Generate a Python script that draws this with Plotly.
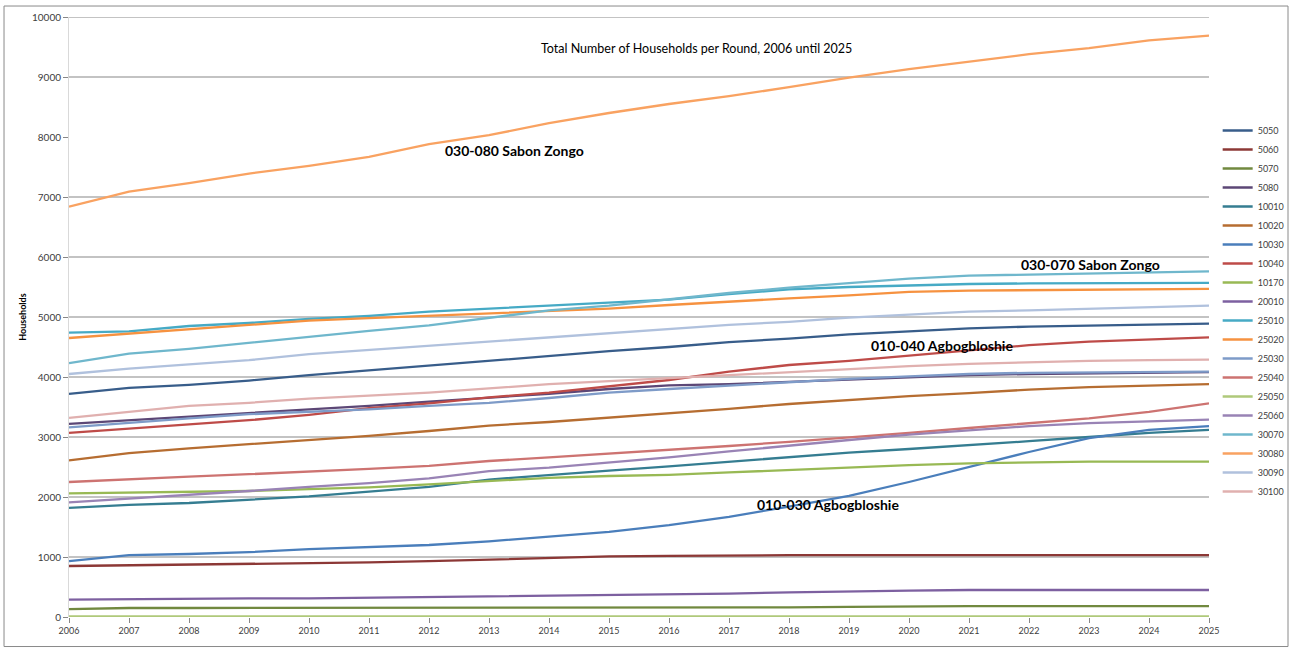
import plotly.graph_objects as go

years = list(range(2006, 2026))

s5050 = [3720, 3820, 3870, 3940, 4030, 4110, 4200, 4280, 4360, 4430, 4500, 4580, 4640, 4710, 4760, 4810, 4840, 4860, 4870, 4890]
s5060 = [850, 860, 870, 880, 900, 910, 930, 960, 990, 1010, 1020, 1030, 1030, 1030, 1030, 1030, 1030, 1030, 1030, 1030]
s5070 = [130, 150, 150, 150, 150, 150, 150, 150, 150, 150, 160, 160, 160, 170, 180, 180, 180, 180, 180, 180]
s5080 = [3220, 3280, 3340, 3390, 3450, 3520, 3590, 3650, 3720, 3800, 3860, 3880, 3920, 3960, 4000, 4030, 4050, 4060, 4070, 4080]
s10010 = [1820, 1870, 1900, 1950, 2010, 2090, 2170, 2290, 2370, 2440, 2510, 2590, 2660, 2740, 2800, 2860, 2930, 3000, 3070, 3120]
s10020 = [2610, 2730, 2810, 2880, 2940, 3020, 3100, 3190, 3250, 3320, 3400, 3470, 3550, 3620, 3680, 3730, 3790, 3830, 3860, 3880]
s10030 = [930, 1030, 1050, 1080, 1130, 1170, 1200, 1260, 1340, 1420, 1530, 1670, 1840, 2020, 2250, 2500, 2750, 2980, 3120, 3180]
s10040 = [3070, 3140, 3220, 3280, 3370, 3480, 3560, 3660, 3740, 3840, 3950, 4090, 4200, 4270, 4360, 4450, 4530, 4590, 4630, 4660]
s10170 = [2060, 2070, 2080, 2100, 2130, 2160, 2210, 2270, 2320, 2350, 2370, 2410, 2450, 2500, 2530, 2560, 2580, 2590, 2590, 2590]
s20010 = [290, 300, 300, 310, 310, 320, 340, 350, 360, 370, 380, 390, 410, 430, 440, 450, 450, 450, 450, 450]
s25010 = [4740, 4760, 4850, 4900, 4970, 5020, 5090, 5140, 5190, 5240, 5290, 5380, 5460, 5500, 5530, 5550, 5560, 5560, 5560, 5570]
s25020 = [4650, 4720, 4800, 4860, 4940, 4980, 5020, 5060, 5110, 5140, 5200, 5260, 5310, 5360, 5420, 5440, 5450, 5460, 5460, 5470]
s25030 = [3160, 3240, 3310, 3380, 3420, 3460, 3520, 3570, 3650, 3740, 3800, 3860, 3920, 3970, 4010, 4050, 4070, 4080, 4090, 4090]
s25040 = [2250, 2300, 2340, 2380, 2420, 2470, 2520, 2600, 2660, 2720, 2780, 2850, 2920, 2990, 3070, 3150, 3230, 3310, 3420, 3560]
s25050 = [10, 10, 10, 10, 10, 10, 10, 10, 10, 10, 10, 10, 10, 10, 10, 10, 10, 10, 10, 10]
s25060 = [1910, 1970, 2030, 2100, 2170, 2230, 2310, 2430, 2490, 2570, 2660, 2760, 2860, 2950, 3040, 3110, 3180, 3230, 3260, 3290]
s30070 = [4230, 4390, 4470, 4570, 4680, 4770, 4860, 4990, 5110, 5190, 5300, 5400, 5490, 5560, 5640, 5690, 5710, 5730, 5750, 5760]
s30080 = [6840, 7090, 7230, 7390, 7520, 7670, 7880, 8030, 8230, 8400, 8550, 8680, 8830, 8990, 9130, 9250, 9380, 9480, 9610, 9690]
s30090 = [4050, 4140, 4210, 4280, 4380, 4450, 4520, 4600, 4670, 4740, 4800, 4870, 4920, 4990, 5040, 5090, 5110, 5140, 5160, 5190]
s30100 = [3320, 3420, 3520, 3570, 3640, 3690, 3740, 3810, 3880, 3930, 3980, 4030, 4090, 4140, 4180, 4220, 4250, 4270, 4280, 4290]

names = ["5050", "5060", "5070", "5080", "10010", "10020", "10030", "10040", "10170", "20010",
         "25010", "25020", "25030", "25040", "25050", "25060", "30070", "30080", "30090", "30100"]
values = [s5050, s5060, s5070, s5080, s10010, s10020, s10030, s10040, s10170, s20010,
          s25010, s25020, s25030, s25040, s25050, s25060, s30070, s30080, s30090, s30100]
colors = ["#385D8A", "#8C3836", "#71893F", "#5C4776", "#357D91", "#B66D31", "#4A7EBB", "#BE4B48",
          "#98B954", "#7D60A0", "#46AAC5", "#F69240", "#7E9BC8", "#CD7371", "#AFC97A", "#9983B5",
          "#6FB7CC", "#F9A261", "#B0C1DD", "#E0B0AF"]

grid_values = [1000, 2000, 3000, 4000, 5000, 6000, 7000, 9000, 10000]
y_ticks = [0, 1000, 2000, 3000, 4000, 5000, 6000, 7000, 8000, 9000, 10000]

title_text = "Total Number of Households per Round, 2006 until 2025"
labels = [
    ("030-080 Sabon Zongo", 0.3904, 0.7783),
    ("030-070 Sabon Zongo", 0.8961, 0.5883),
    ("010-040 Agbogbloshie", 0.7654, 0.4517),
    ("010-030 Agbogbloshie", 0.6654, 0.1883),
]

fig = go.Figure()
for n, v, c in zip(names, values, colors):
    fig.add_trace(go.Scatter(x=years, y=v, mode="lines", name=n,
                             line=dict(color=c, width=2.3)))

shapes = []
for g in grid_values:
    shapes.append(dict(type="line", xref="paper", yref="y", x0=0, x1=1, y0=g, y1=g,
                       line=dict(color="#878787", width=1), layer="below"))
shapes.append(dict(type="line", xref="paper", yref="y", x0=0, x1=1, y0=0, y1=0,
                   line=dict(color="#878787", width=1), layer="below"))
shapes.append(dict(type="rect", xref="paper", yref="paper", x0=-0.0570, x1=1.0693,
                   y0=-0.0492, y1=1.0183, line=dict(color="#8a8a8a", width=1),
                   fillcolor="rgba(0,0,0,0)", layer="below"))

annotations = [dict(text=title_text, xref="paper", yref="paper", x=0.55, y=0.9467,
                    showarrow=False, font=dict(family="Lato", size=12.5, color="#000000"),
                    xanchor="center", yanchor="middle")]
for t, ax, ay in labels:
    annotations.append(dict(text="<b>" + t + "</b>", xref="paper", yref="paper", x=ax, y=ay,
                            showarrow=False, font=dict(family="Lato", size=14, color="#000000"),
                            xanchor="center", yanchor="middle"))

fig.update_layout(
    template="none",
    width=1292, height=648,
    margin=dict(l=69, r=83, t=17, b=31, autoexpand=False),
    paper_bgcolor="white", plot_bgcolor="white",
    font=dict(family="Lato", size=10, color="#404040"),
    showlegend=True,
    legend=dict(x=1.0076, xanchor="left", y=0.51, yanchor="middle",
                font=dict(family="Lato", size=9, color="#404040"),
                bgcolor="rgba(0,0,0,0)", tracegroupgap=0, itemwidth=30),
    shapes=shapes,
    annotations=annotations,
)
fig.update_xaxes(range=[2006, 2025], tickmode="array", tickvals=years,
                 ticktext=[str(y) for y in years], showgrid=False, zeroline=False,
                 showline=False, ticks="outside", ticklen=5, tickcolor="#878787",
                 automargin=False,
                 tickfont=dict(family="Lato", size=9, color="#404040"))
fig.update_yaxes(range=[0, 10000], tickmode="array", tickvals=y_ticks,
                 ticktext=[str(v) for v in y_ticks], showgrid=False,
                 zeroline=False, showline=True, linecolor="#d9d9d9", linewidth=1,
                 ticks="outside", ticklen=5, tickcolor="#878787", automargin=False,
                 tickfont=dict(family="Lato", size=10, color="#404040"),
                 title=dict(text="<b>Households</b>", font=dict(family="Lato", size=9, color="#000000"),
                            standoff=3))

fig.write_html("out.html", config={"displayModeBar": False},
               post_script="document.body.style.margin='0px';document.body.style.overflow='hidden';")
